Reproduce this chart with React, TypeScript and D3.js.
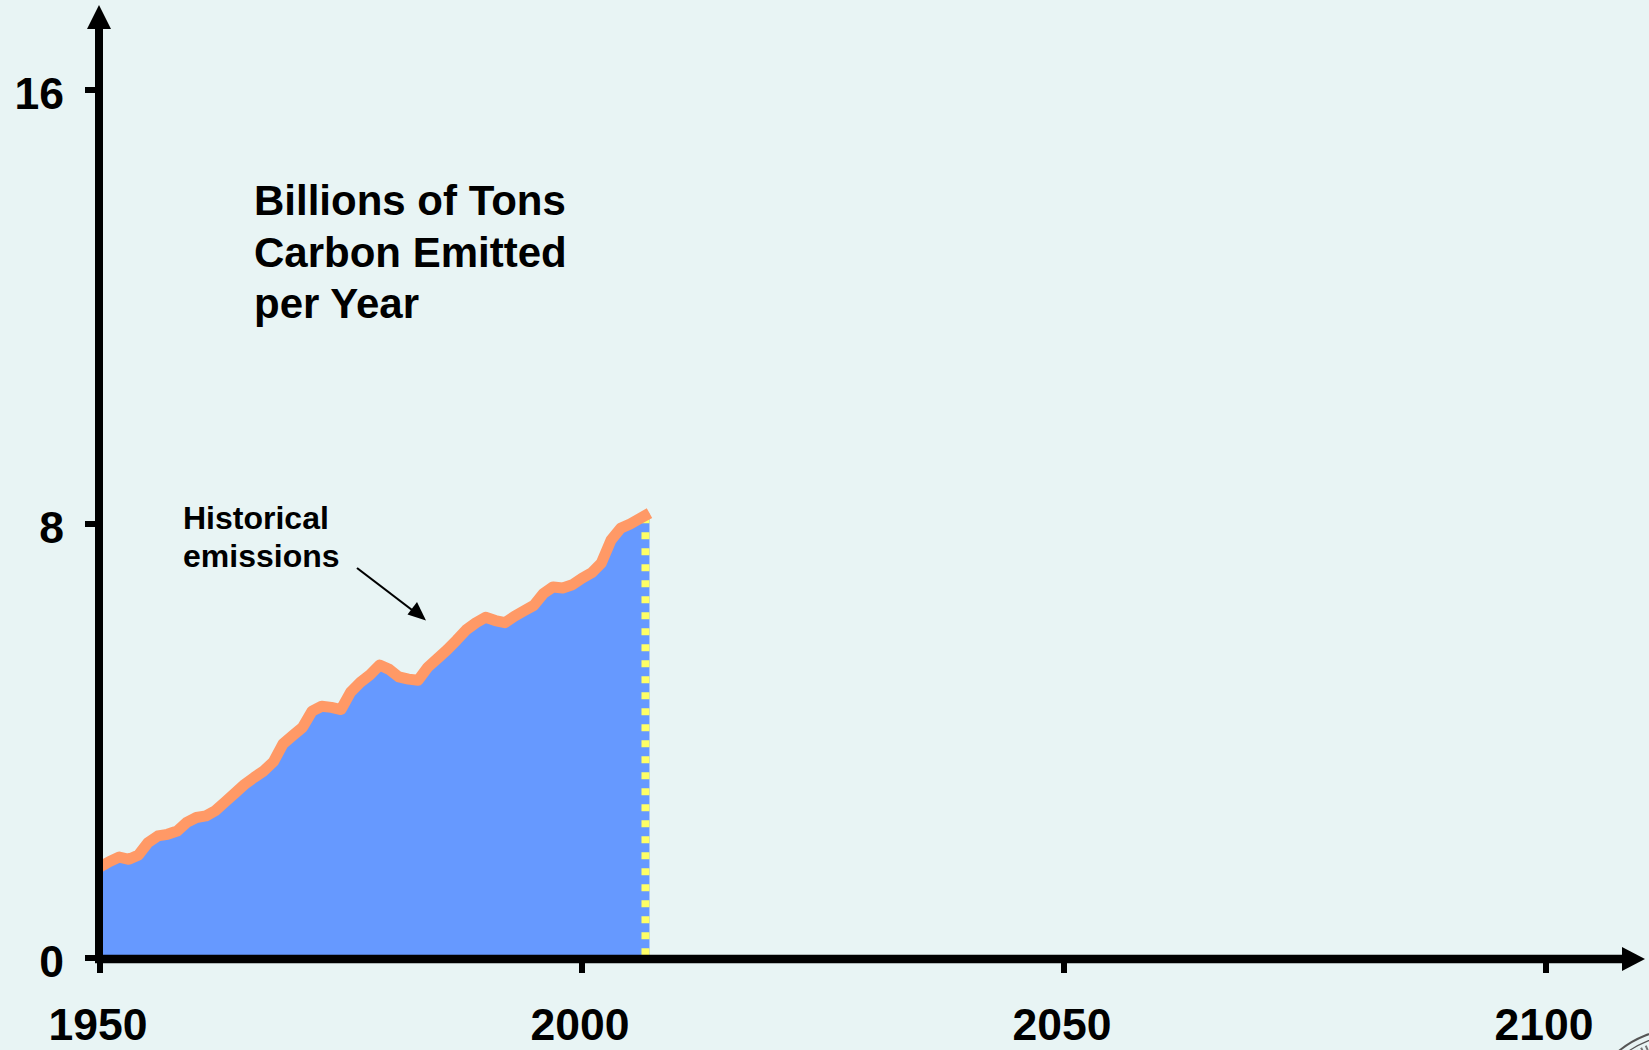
import React from "react";
import * as d3 from "d3";

const years: number[] = [
  1950, 1951, 1952, 1953, 1954, 1955, 1956, 1957, 1958, 1959,
  1960, 1961, 1962, 1963, 1964, 1965, 1966, 1967, 1968, 1969,
  1970, 1971, 1972, 1973, 1974, 1975, 1976, 1977, 1978, 1979,
  1980, 1981, 1982, 1983, 1984, 1985, 1986, 1987, 1988, 1989,
  1990, 1991, 1992, 1993, 1994, 1995, 1996, 1997, 1998, 1999,
  2000, 2001, 2002, 2003, 2004, 2005, 2006, 2007,
];

const emissions: number[] = [
  1.68, 1.78, 1.86, 1.82, 1.9, 2.13, 2.25, 2.28, 2.34, 2.5,
  2.59, 2.62, 2.72, 2.88, 3.04, 3.2, 3.33, 3.45, 3.62, 3.95,
  4.1, 4.25, 4.55, 4.64, 4.62, 4.58, 4.9, 5.08, 5.22, 5.4,
  5.32, 5.18, 5.14, 5.12, 5.36, 5.52, 5.68, 5.86, 6.05, 6.18,
  6.28, 6.22, 6.18, 6.3, 6.4, 6.5, 6.72, 6.84, 6.82, 6.88,
  7.0, 7.1, 7.28, 7.7, 7.92, 8.0, 8.1, 8.2,
];

const xTicks: number[] = [1950, 2000, 2050, 2100];
const yTicks: number[] = [0, 8, 16];
const titleLines: string[] = ["Billions of Tons", "Carbon Emitted", "per Year"];
const noteLines: string[] = ["Historical", "emissions"];

const W = 1649;
const H = 1050;
const FONT = "'Liberation Sans', Arial, Helvetica, sans-serif";

export default function App() {
  const x = d3.scaleLinear().domain([1950, 2100]).range([100, 1546]);
  const y = d3.scaleLinear().domain([0, 16]).range([958, 90]);

  const data = years.map((yr, i) => ({ yr, v: emissions[i] }));

  const area = d3
    .area<{ yr: number; v: number }>()
    .x((d) => x(d.yr))
    .y0(y(0))
    .y1((d) => y(d.v));
  const line = d3
    .line<{ yr: number; v: number }>()
    .x((d) => x(d.yr))
    .y((d) => y(d.v));

  const last = data[data.length - 1];
  const dotX = x(last.yr) - 4;

  const axisY = 959;
  const axisX = 99;

  return (
    <svg
      width={W}
      height={H}
      style={{ position: "absolute", left: 0, top: 0, display: "block" }}
    >
      <rect x={0} y={0} width={W} height={H} fill="#E8F4F4" />

      {/* emissions area */}
      <path d={area(data) || ""} fill="#6699FF" />
      <line
        x1={dotX}
        x2={dotX}
        y1={y(last.v) + 3}
        y2={y(0)}
        stroke="#FFFF66"
        strokeWidth={8}
        strokeDasharray="7 9"
      />
      <path
        d={line(data) || ""}
        fill="none"
        stroke="#FF9966"
        strokeWidth={11}
        strokeLinejoin="round"
        strokeLinecap="butt"
      />

      {/* y axis */}
      <line x1={axisX} x2={axisX} y1={26} y2={axisY + 4} stroke="#000" strokeWidth={8} />
      <path d={`M${axisX},5 L${axisX + 12},29 L${axisX - 12},29 Z`} fill="#000" />
      {yTicks.map((t) => (
        <g key={t}>
          <line x1={85} x2={axisX} y1={y(t)} y2={y(t)} stroke="#000" strokeWidth={6} />
          <text
            x={64}
            y={y(t) + 18.5}
            textAnchor="end"
            fontFamily={FONT}
            fontWeight="bold"
            fontSize={44.5}
            fill="#000"
          >
            {t}
          </text>
        </g>
      ))}

      {/* x axis */}
      <line x1={axisX - 4} x2={1624} y1={axisY} y2={axisY} stroke="#000" strokeWidth={8.5} />
      <path d={`M1645,${axisY} L1622,${axisY - 12} L1622,${axisY + 12} Z`} fill="#000" />
      {xTicks.map((t) => (
        <g key={t}>
          <line x1={x(t)} x2={x(t)} y1={axisY} y2={973} stroke="#000" strokeWidth={6} />
          <text
            x={x(t) - 2}
            y={1040}
            textAnchor="middle"
            fontFamily={FONT}
            fontWeight="bold"
            fontSize={44.5}
            fill="#000"
          >
            {t}
          </text>
        </g>
      ))}

      {/* title */}
      {titleLines.map((s, i) => (
        <text
          key={s}
          x={254}
          y={215 + i * 51.5}
          fontFamily={FONT}
          fontWeight="bold"
          fontSize={42}
          fill="#000"
        >
          {s}
        </text>
      ))}

      {/* annotation */}
      {noteLines.map((s, i) => (
        <text
          key={s}
          x={183}
          y={529 + i * 38}
          fontFamily={FONT}
          fontWeight="bold"
          fontSize={32}
          fill="#000"
        >
          {s}
        </text>
      ))}
      <line x1={357} y1={568} x2={414} y2={611.5} stroke="#000" strokeWidth={2.2} />
      <path d="M426,620.5 L407.5,614.5 L417,602 Z" fill="#000" />

      {/* partial seal in the corner */}
      <g fill="none" stroke="#555">
        <circle cx={1680} cy={1125} r={96} strokeWidth={2} />
        <circle cx={1680} cy={1125} r={90} strokeWidth={1.2} />
        <circle cx={1680} cy={1125} r={84} strokeWidth={5} strokeDasharray="2 3" stroke="#777" />
      </g>
    </svg>
  );
}
